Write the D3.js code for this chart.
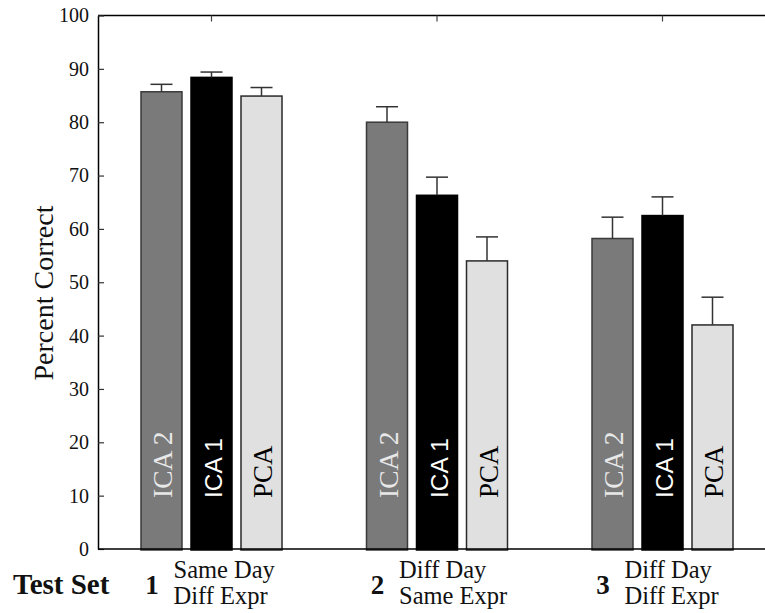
<!DOCTYPE html>
<html><head><meta charset="utf-8">
<script src="https://cdn.jsdelivr.net/npm/d3@7"></script>
<style>body{margin:0;background:#fff}svg{display:block}</style>
</head><body>
<svg id="c" width="765" height="613"></svg>
<script>
const groups = ["1","2","3"];
const groupLine1 = ["Same Day","Diff Day","Diff Day"];
const groupLine2 = ["Diff Expr","Same Expr","Diff Expr"];
const methods = ["ICA 2","ICA 1","PCA"];
const ica2 = [85.7, 80.0, 58.2];
const ica1 = [88.4, 66.3, 62.5];
const pca  = [84.9, 54.0, 42.0];
const ica2Err = [1.4, 2.9, 4.0];
const ica1Err = [1.0, 3.4, 3.5];
const pcaErr  = [1.6, 4.5, 5.2];
const yTicks = [0,10,20,30,40,50,60,70,80,90,100];

const values = [ica2, ica1, pca];
const errs = [ica2Err, ica1Err, pcaErr];
const fills = ["#7a7a7a", "#000000", "#e0e0e0"];
const strokes = ["#3a3a3a", "#000000", "#2a2a2a"];
const labelColors = ["#e8e8e8", "#ffffff", "#000000"];
const labelFonts = ["'Liberation Serif', serif", "'Liberation Sans', Arial, sans-serif", "'Liberation Serif', serif"];
const labelSizes = [27.5, 24.5, 27];

const svg = d3.select("#c");
const serif = "'Liberation Serif','Times New Roman',serif";
const mLeft = 98, mRight = 765, mTop = 15.5, mBottom = 549;

const x = d3.scalePoint().domain(groups).range([211.5, 662.5]);
const xi = d3.scaleBand().domain(methods).range([-75, 75]).paddingInner(0.18).paddingOuter(0.09);
const y = d3.scaleLinear().domain([0, 100]).range([mBottom, mTop]);

// frame line
svg.append("line").attr("x1", mLeft).attr("x2", mRight).attr("y1", mTop).attr("y2", mTop).attr("stroke", "#000").attr("stroke-width", 1.5);

// top ticks
svg.selectAll(".tt").data(groups).join("line").attr("class", "tt")
  .attr("x1", d => x(d)).attr("x2", d => x(d)).attr("y1", mTop).attr("y2", mTop + 6)
  .attr("stroke", "#444").attr("stroke-width", 1.2);

// y axis
const yAxis = d3.axisLeft(y).tickValues(yTicks).tickSize(-6).tickPadding(9).tickSizeOuter(0);
const ga = svg.append("g").attr("transform", `translate(${mLeft},0)`).call(yAxis);
ga.select(".domain").attr("stroke", "#000").attr("stroke-width", 1.5);
ga.selectAll(".tick line").attr("stroke", "#333").attr("stroke-width", 1.2);
ga.selectAll(".tick text").attr("font-family", serif).attr("font-size", 20).attr("fill", "#111");

// bars
methods.forEach((m, mi) => {
  const g = svg.append("g");
  g.selectAll("rect").data(groups).join("rect")
    .attr("x", d => x(d) + xi(m))
    .attr("width", xi.bandwidth())
    .attr("y", (d, i) => y(values[mi][i]))
    .attr("height", (d, i) => y(0) - y(values[mi][i]) + 1)
    .attr("fill", fills[mi])
    .attr("stroke", strokes[mi])
    .attr("stroke-width", 1.5);
  g.selectAll(".ev").data(groups).join("line").attr("class", "ev")
    .attr("x1", d => x(d) + xi(m) + xi.bandwidth() / 2)
    .attr("x2", d => x(d) + xi(m) + xi.bandwidth() / 2)
    .attr("y1", (d, i) => y(values[mi][i]))
    .attr("y2", (d, i) => y(values[mi][i] + errs[mi][i]))
    .attr("stroke", "#333").attr("stroke-width", 1.5);
  g.selectAll(".ec").data(groups).join("line").attr("class", "ec")
    .attr("x1", d => x(d) + xi(m) + xi.bandwidth() / 2 - 11)
    .attr("x2", d => x(d) + xi(m) + xi.bandwidth() / 2 + 11)
    .attr("y1", (d, i) => y(values[mi][i] + errs[mi][i]))
    .attr("y2", (d, i) => y(values[mi][i] + errs[mi][i]))
    .attr("stroke", "#333").attr("stroke-width", 1.5);
  g.selectAll("text").data(groups).join("text")
    .attr("transform", d => `translate(${x(d) + xi(m) + xi.bandwidth() / 2 + 10.5},${y(0) - 51}) rotate(-90)`)
    .attr("font-family", labelFonts[mi])
    .attr("font-size", labelSizes[mi])
    .attr("fill", labelColors[mi])
    .text(m);
});

// baseline
svg.append("line").attr("x1", mLeft).attr("x2", mRight).attr("y1", mBottom).attr("y2", mBottom).attr("stroke", "#000").attr("stroke-width", 1.5);

// y label
svg.append("text")
  .attr("transform", `translate(53,293) rotate(-90)`)
  .attr("text-anchor", "middle")
  .attr("font-family", serif).attr("font-size", 28).attr("fill", "#111")
  .text("Percent Correct");

// bottom labels
svg.append("text").attr("x", 13).attr("y", 594)
  .attr("font-family", serif).attr("font-weight", "bold").attr("font-size", 29).attr("fill", "#111")
  .text("Test Set");

const gl = svg.selectAll(".gl").data(groups).join("g").attr("class", "gl")
  .attr("transform", d => `translate(${x(d)},0)`);
gl.append("text").attr("x", -59.5).attr("y", 594).attr("text-anchor", "middle")
  .attr("font-family", serif).attr("font-weight", "bold").attr("font-size", 27).attr("fill", "#111")
  .text(d => d);
gl.append("text").attr("x", -38).attr("y", 578)
  .attr("font-family", serif).attr("font-size", 24.5).attr("fill", "#111")
  .text((d, i) => groupLine1[i]);
gl.append("text").attr("x", -38).attr("y", 604)
  .attr("font-family", serif).attr("font-size", 24.5).attr("fill", "#111")
  .text((d, i) => groupLine2[i]);
</script>
</body></html>
